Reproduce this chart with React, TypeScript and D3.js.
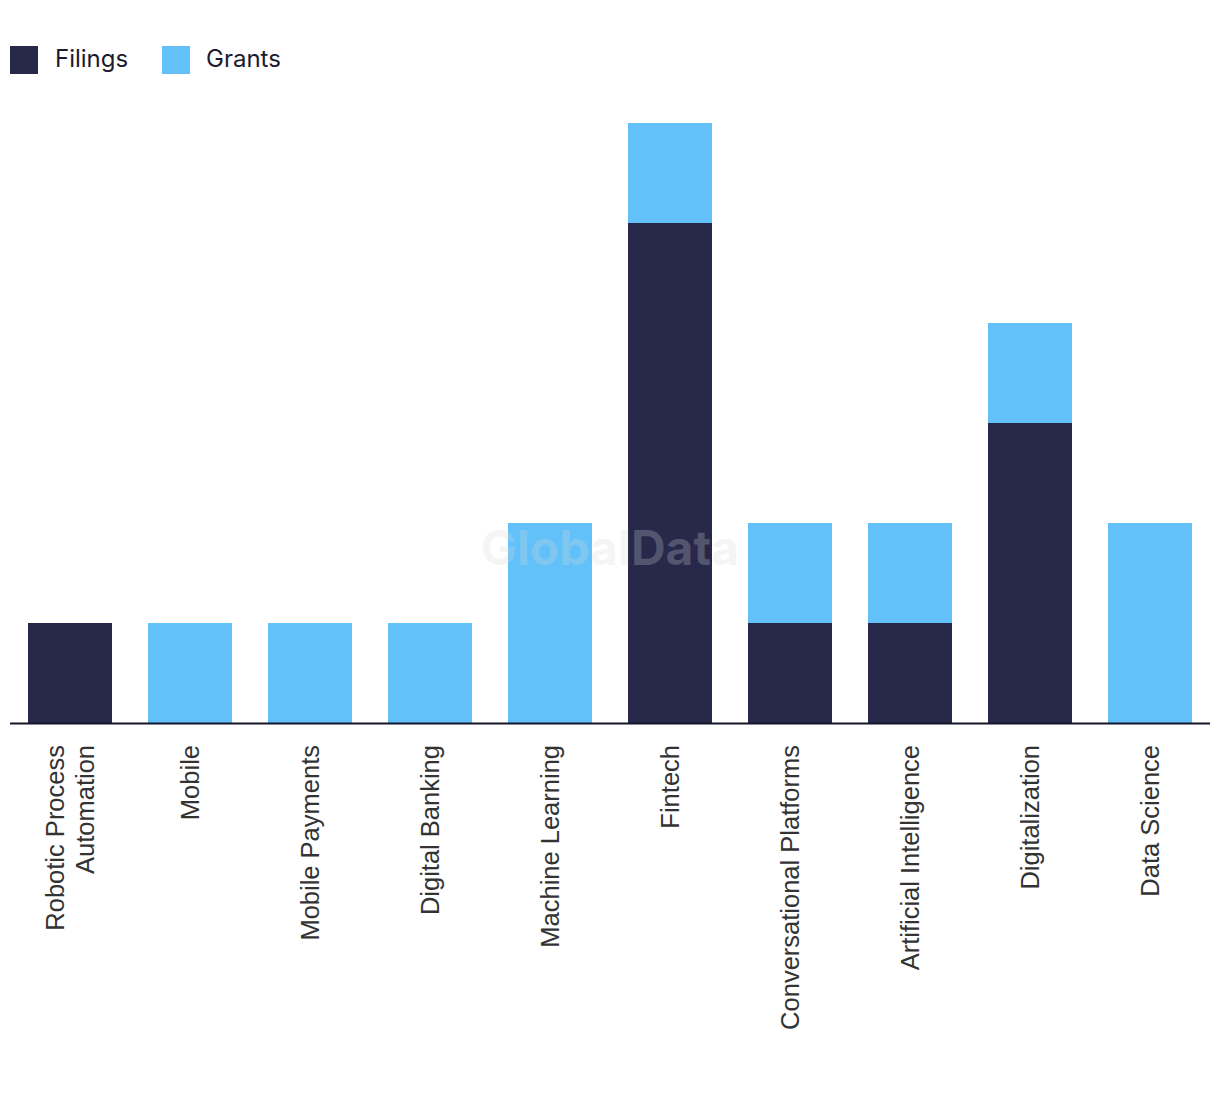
import React from "react";
import * as d3 from "d3";

const categories = [
  "Robotic Process Automation",
  "Mobile",
  "Mobile Payments",
  "Digital Banking",
  "Machine Learning",
  "Fintech",
  "Conversational Platforms",
  "Artificial Intelligence",
  "Digitalization",
  "Data Science",
];
const filings = [1, 0, 0, 0, 0, 5, 1, 1, 3, 0];
const grants = [0, 1, 1, 1, 2, 1, 1, 1, 1, 2];
const labelLines: Record<string, string[]> = {
  "Robotic Process Automation": ["Robotic Process", "Automation"],
};

const W = 1220;
const H = 1094;
const x0 = 10, x1 = 1210, yBase = 723, yTop = 123;
const colFil = "#27284a";
const colGra = "#62c1f9";

export default function App() {
  const x = d3.scaleBand<string>().domain(categories).range([x0, x1]).paddingInner(0.3).paddingOuter(0.15);
  const y = d3.scaleLinear().domain([0, 6]).range([yBase, yTop]);
  const data = categories.map((c, i) => ({ c, f: filings[i], g: grants[i] }));
  return (
    <svg width={W} height={H} style={{ position: "absolute", left: 0, top: 0 }}>
      <rect width={W} height={H} fill="#fff" />
      <g>
        <rect x={10} y={46} width={28} height={28} fill={colFil} />
        <text x={55} y={67} fontFamily="Inter, 'Noto Sans', sans-serif" fontSize={24} fill="#1b1b2e">Filings</text>
        <rect x={162} y={46} width={28} height={28} fill={colGra} />
        <text x={206} y={67} fontFamily="Inter, 'Noto Sans', sans-serif" fontSize={24} fill="#1b1b2e">Grants</text>
      </g>
      {data.map((d) => (
        <g key={d.c}>
          {d.f > 0 && (
            <rect x={x(d.c)} y={y(d.f)} width={x.bandwidth()} height={y(0) - y(d.f)} fill={colFil} />
          )}
          {d.g > 0 && (
            <rect x={x(d.c)} y={y(d.f + d.g)} width={x.bandwidth()} height={y(d.f) - y(d.f + d.g)} fill={colGra} />
          )}
        </g>
      ))}
      <text x={610} y={565} textAnchor="middle" fontFamily="Inter, 'Liberation Sans', sans-serif" fontWeight={700} fontSize={48} fill="#d8d8d8" fillOpacity={0.25}>GlobalData</text>
      <line x1={x0} x2={x1} y1={yBase + 0.5} y2={yBase + 0.5} stroke="#14142a" strokeWidth={2} />
      {categories.map((c) => {
        const cx = (x(c) as number) + x.bandwidth() / 2;
        const lines = labelLines[c] || [c];
        const n = lines.length;
        return (
          <g key={c} transform={`translate(${cx},745) rotate(-90)`}>
            {lines.map((l, i) => (
              <text key={i} x={0} y={(i - (n - 1) / 2) * 30 + 9} textAnchor="end" fontFamily="'Liberation Sans', Arial, sans-serif" fontSize={25.5} fill="#333">{l}</text>
            ))}
          </g>
        );
      })}
    </svg>
  );
}
